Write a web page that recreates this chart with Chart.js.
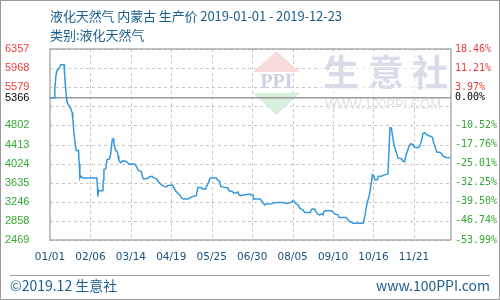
<!DOCTYPE html>
<html>
<head>
<meta charset="utf-8">
<script src="https://cdn.jsdelivr.net/npm/chart.js@4.4.1/dist/chart.umd.min.js"></script>
<style>
  html, body { margin: 0; padding: 0; background: #fff; }
  .frame { position: relative; width: 500px; height: 300px; overflow: hidden;
           font-family: "Noto Sans CJK SC", "Noto Sans", sans-serif; color: #1b5e8e; }
  .frame canvas { position: absolute; left: 0; top: 0; }
  .edge { position: absolute; left: 0; top: 0; right: 0; bottom: 0; border: 1px solid #999; pointer-events: none; }
  .txt { position: absolute; font-size: 13px; line-height: 16px; white-space: nowrap; }
  .foot { font-size: 14px; }
  .sep { position: absolute; left: 10px; top: 275px; width: 480px; height: 1px; background: #a0a0a0; }
</style>
</head>
<body>
<div class="frame">
  <canvas id="chart" width="500" height="300"></canvas>
  <div class="txt" id="title1" style="left:50px; top:8px; letter-spacing:-0.1px;">液化天然气 内蒙古 生产价 2019-01-01 - 2019-12-23</div>
  <div class="txt" id="title2" style="left:50px; top:27px;">类别:液化天然气</div>
  <div class="sep"></div>
  <div class="txt foot" style="left:10px; top:277px;">©2019.12 生意社</div>
  <div class="txt foot" style="right:10px; top:277px;">www.100PPI.com</div>
  <div class="edge"></div>
</div>
<script>
  // days counted from 2019-01-01
  const days = [
    0, 4.3, 4.3, 5.2, 6.1, 8.2, 9.6, 12.6, 12.9, 13.8, 14.7, 15.0, 16.2, 18.5, 19.7, 20.3, 21.2, 22.5, 23.4, 25.4,
    26.0, 26.6, 27.4, 29.2, 41.7, 42.3, 42.6, 43.2, 47.1, 47.4, 48.0, 49.6, 50.8, 53.0, 53.9, 54.8, 55.4, 56.6, 57.2, 58.4,
    59.8, 60.7, 61.3, 62.8, 63.7, 64.9, 67.3, 69.0, 70.2, 72.0, 75.3, 76.8, 78.6, 81.2, 82.7, 83.3, 87.2, 88.6, 91.0, 92.2,
    94.6, 96.0, 98.2, 100.0, 102.0, 103.5, 105.0, 108.9, 110.0, 111.8, 113.6, 115.4, 116.9, 118.9, 122.8, 124.3, 125.8, 127.2, 130.2, 131.7,
    134.7, 135.6, 138.5, 139.7, 141.2, 142.1, 143.0, 148.0, 149.5, 151.0, 151.9, 155.5, 158.4, 159.3, 162.3, 163.5, 165.9, 167.3, 168.2, 169.7,
    171.2, 173.3, 174.8, 177.7, 179.2, 180.7, 181.3, 187.3, 188.2, 189.6, 191.1, 193.1, 197.1, 198.5, 202.0, 207.4, 208.9, 211.8, 212.7, 214.9,
    216.3, 217.8, 219.3, 220.8, 222.3, 223.8, 225.2, 226.7, 231.8, 232.7, 233.3, 235.6, 237.2, 238.6, 240.1, 241.6, 243.0, 243.9, 245.2, 251.0,
    251.9, 253.5, 256.4, 257.3, 263.9, 265.3, 266.8, 268.3, 269.8, 278.7, 279.6, 280.8, 281.7, 282.6, 283.5, 284.6, 285.5, 286.4, 287.0, 288.2,
    289.1, 291.5, 292.4, 295.0, 296.5, 298.9, 300.9, 301.8, 302.7, 304.0, 304.5, 305.4, 306.6, 308.4, 309.8, 312.9, 314.3, 315.8, 316.7, 318.2,
    319.6, 320.9, 323.2, 324.7, 327.7, 329.2, 330.7, 332.1, 333.6, 335.2, 336.6, 338.7, 340.5, 341.6, 343.4, 344.6, 347.0, 348.5, 349.9, 352.3,
    354.4, 356.0
  ];
  const prices = [
    5366, 5366, 5540, 5798, 5911, 5968, 6036, 6036, 5880, 5594, 5366, 5287, 5232, 5144, 5062, 4945, 4673, 4413, 4291, 4291,
    4018, 3732, 3773, 3732, 3732, 3540, 3356, 3472, 3472, 3683, 3902, 3916, 4106, 4121, 4209, 4379, 4516, 4530, 4413, 4291,
    4276, 4174, 4086, 4039, 4060, 4080, 4072, 4045, 4010, 4018, 4018, 3969, 3887, 3867, 3732, 3711, 3724, 3759, 3765, 3732,
    3718, 3663, 3615, 3581, 3560, 3548, 3581, 3589, 3548, 3472, 3425, 3390, 3329, 3302, 3302, 3323, 3343, 3356, 3370, 3540,
    3540, 3507, 3507, 3575, 3642, 3711, 3732, 3732, 3683, 3663, 3560, 3540, 3527, 3472, 3458, 3425, 3425, 3446, 3390, 3370,
    3384, 3384, 3397, 3405, 3384, 3384, 3302, 3302, 3268, 3233, 3186, 3200, 3206, 3220, 3233, 3233, 3220, 3213, 3233, 3233,
    3274, 3241, 3200, 3186, 3118, 3098, 3084, 3028, 3028, 3084, 3098, 3098, 3028, 2995, 2981, 3002, 2981, 3049, 3063, 3063,
    3036, 2995, 2981, 2926, 2926, 2879, 2844, 2832, 2811, 2811, 2879, 3016, 3151, 3253, 3308, 3425, 3560, 3683, 3800, 3779,
    3697, 3697, 3765, 3765, 3785, 3800, 3814, 4291, 4755, 4747, 4653, 4530, 4379, 4244, 4141, 4121, 4072, 4060, 4174, 4276,
    4379, 4428, 4413, 4358, 4346, 4379, 4481, 4638, 4653, 4618, 4597, 4583, 4557, 4448, 4325, 4256, 4256, 4229, 4174, 4153,
    4141, 4141
  ];

  const basePrice = 5366;
  const yTickValues = [6357, 5968, 5579, 5366, 5190, 4802, 4413, 4024, 3635, 3246, 2858, 2469];
  const leftLabels = ['6357', '5968', '5579', '5366', '', '4802', '4413', '4024', '3635', '3246', '2858', '2469'];
  const rightLabels = ['18.46%', '11.21%', '3.97%', '0.00%', '', '-10.52%', '-17.76%', '-25.01%', '-32.25%', '-39.50%', '-46.74%', '-53.99%'];
  const xTickDays = [0, 36, 72, 108, 144, 180, 216, 252, 288, 324];
  const xTickLabels = ['01/01', '02/06', '03/14', '04/19', '05/25', '06/30', '08/05', '09/10', '10/16', '11/21'];

  const RED = '#f03c3c';
  const GREEN = '#33a833';

  function tickColor(ctx) {
    const v = ctx.tick ? ctx.tick.value : basePrice;
    if (v > basePrice) return RED;
    if (v < basePrice) return GREEN;
    return '#000';
  }

  const setYTicks = (scale) => { scale.ticks = yTickValues.map(v => ({ value: v })); };

  // grid, base line, frame and the site watermark
  const backdrop = {
    id: 'backdrop',
    beforeDatasetsDraw(chart) {
      const { ctx, chartArea: a, scales: { x, y } } = chart;
      ctx.save();

      ctx.lineWidth = 1;
      ctx.strokeStyle = '#c8c8c8';
      ctx.setLineDash([3, 3]);
      ctx.beginPath();
      yTickValues.forEach(v => {
        if (v === basePrice) return;
        const py = Math.round(y.getPixelForValue(v)) + 0.5;
        ctx.moveTo(a.left, py);
        ctx.lineTo(a.right, py);
      });
      xTickDays.forEach(d => {
        if (d === 0) return;
        const px = Math.round(x.getPixelForValue(d)) + 0.5;
        ctx.moveTo(px, a.top);
        ctx.lineTo(px, a.bottom);
      });
      ctx.stroke();
      ctx.setLineDash([]);

      // watermark
      ctx.fillStyle = 'rgba(255,255,255,0.55)';
      ctx.fillRect(318, 51, 132, 44);
      ctx.fillStyle = '#f7dada';
      ctx.beginPath();
      ctx.moveTo(276.5, 51); ctx.lineTo(300, 72); ctx.lineTo(253, 72); ctx.closePath();
      ctx.fill();
      ctx.fillStyle = '#d8efdd';
      ctx.beginPath();
      ctx.moveTo(253, 93); ctx.lineTo(300, 93); ctx.lineTo(276.5, 115); ctx.closePath();
      ctx.fill();
      ctx.textAlign = 'center';
      ctx.textBaseline = 'middle';
      ctx.fillStyle = '#ccd2e3';
      ctx.font = 'bold 20px "Liberation Serif"';
      ctx.fillText('PPI', 276.5, 83, 47);
      ctx.fillStyle = '#d8dce9';
      ctx.font = 'bold 36px "Noto Sans CJK SC"';
      ctx.fillText('生', 341, 72);
      ctx.fillText('意', 386, 72);
      ctx.fillText('社', 430, 72);
      ctx.fillStyle = '#e2e2e2';
      ctx.font = '14px "Liberation Sans"';
      ctx.fillText('WWW.100PPI.COM', 383, 105, 116);

      ctx.strokeStyle = '#999';
      ctx.lineWidth = 1.5;
      const by = y.getPixelForValue(basePrice);
      ctx.beginPath();
      ctx.moveTo(a.left, by);
      ctx.lineTo(a.right, by);
      ctx.stroke();

      ctx.lineWidth = 1.2;
      ctx.strokeRect(a.left, a.top, a.right - a.left, a.bottom - a.top);
      ctx.restore();
    }
  };

  new Chart(document.getElementById('chart'), {
    type: 'line',
    data: {
      datasets: [{
        data: days.map((d, i) => ({ x: d, y: prices[i] })),
        borderColor: '#3498db',
        borderWidth: 1.5,
        pointRadius: 0,
        tension: 0,
        fill: false
      }]
    },
    options: {
      responsive: false,
      devicePixelRatio: 1,
      animation: false,
      events: [],
      layout: { padding: { left: 5, top: 49, right: 0, bottom: 0 } },
      plugins: { legend: { display: false }, tooltip: { enabled: false } },
      scales: {
        x: {
          type: 'linear',
          min: 0,
          max: 357,
          grid: { display: false, drawTicks: false },
          border: { display: false },
          afterBuildTicks: (scale) => { scale.ticks = xTickDays.map(d => ({ value: d })); },
          afterFit: (scale) => { scale.height = 60; },
          ticks: {
            autoSkip: false,
            maxRotation: 0,
            padding: 11,
            color: '#1a5080',
            font: { family: 'DejaVu Sans', size: 10.5 },
            callback: (v) => xTickLabels[xTickDays.indexOf(v)]
          }
        },
        y: {
          position: 'left',
          min: 2469,
          max: 6357,
          grid: { display: false, drawTicks: false },
          border: { display: false },
          afterBuildTicks: setYTicks,
          afterFit: (scale) => { scale.width = 45; },
          ticks: {
            autoSkip: false,
            crossAlign: 'far',
            padding: 0,
            color: tickColor,
            font: { family: 'Liberation Sans', size: 11 },
            callback: (v) => leftLabels[yTickValues.indexOf(v)]
          }
        },
        y2: {
          position: 'right',
          min: 2469,
          max: 6357,
          grid: { display: false, drawTicks: false },
          border: { display: false },
          afterBuildTicks: setYTicks,
          afterFit: (scale) => { scale.width = 49; },
          ticks: {
            autoSkip: false,
            padding: 4,
            color: tickColor,
            font: { family: 'DejaVu Sans Mono', size: 10 },
            callback: (v) => rightLabels[yTickValues.indexOf(v)]
          }
        }
      }
    },
    plugins: [backdrop]
  });
</script>
</body>
</html>
